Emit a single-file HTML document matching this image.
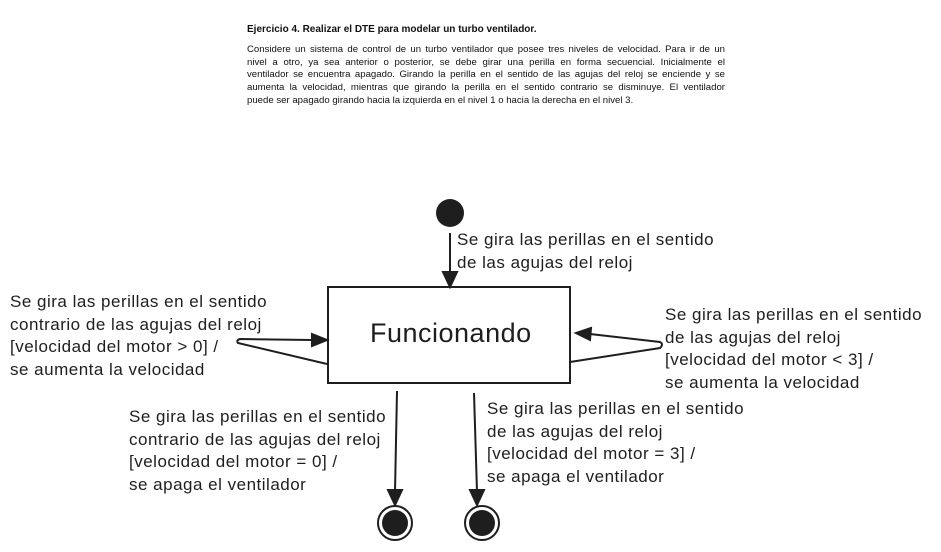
<!DOCTYPE html>
<html><head><meta charset="utf-8"><style>
body{margin:0;width:941px;height:552px;background:#fff;position:relative;overflow:hidden;font-family:"Liberation Sans",sans-serif;color:#1e1e1e}
.t{position:absolute;font-size:17px;letter-spacing:0.5px;line-height:22.5px;white-space:nowrap}
#doc{position:absolute;left:247px;top:24px;width:478px;font-size:9.6px;line-height:12.8px;color:#111}
#doc .l{text-align:justify;text-align-last:justify;white-space:nowrap}
</style></head><body>
<div id="doc"><div style="font-weight:bold;font-size:10px;margin-bottom:7px">Ejercicio 4. Realizar el DTE para modelar un turbo ventilador.</div>
<div class="l">Considere un sistema de control de un turbo ventilador que posee tres niveles de velocidad. Para ir de un</div>
<div class="l">nivel a otro, ya sea anterior o posterior, se debe girar una perilla en forma secuencial. Inicialmente el</div>
<div class="l">ventilador se encuentra apagado. Girando la perilla en el sentido de las agujas del reloj se enciende y se</div>
<div class="l">aumenta la velocidad, mientras que girando la perilla en el sentido contrario se disminuye. El ventilador</div>
<div>puede ser apagado girando hacia la izquierda en el nivel 1 o hacia la derecha en el nivel 3.</div></div>
<svg width="941" height="552" style="position:absolute;left:0;top:0" stroke="#1e1e1e" fill="none" stroke-width="2">
<circle cx="450" cy="213" r="14" fill="#1e1e1e" stroke="none"/>
<line x1="450" y1="233" x2="450" y2="272"/><polygon points="443,272 457,272 450,287" fill="#1e1e1e"/>
<rect x="328" y="287" width="242" height="96"/>
<path d="M327 364 L238 343 Q236 340 240 339 L312 340"/><polygon points="312,334 327,340 312,346" fill="#1e1e1e"/>
<path d="M570 362 L660 348 Q664 344 660 342 L590 334"/><polygon points="591,328 576,333 590,340" fill="#1e1e1e"/>
<line x1="397" y1="391" x2="395" y2="492"/><polygon points="388,490 402,490 395,505" fill="#1e1e1e"/>
<line x1="474" y1="393" x2="477" y2="492"/><polygon points="470,490 484,490 477,505" fill="#1e1e1e"/>
<circle cx="395" cy="523" r="17"/><circle cx="395" cy="523" r="13" fill="#1e1e1e" stroke="none"/>
<circle cx="482" cy="523" r="17"/><circle cx="482" cy="523" r="13" fill="#1e1e1e" stroke="none"/>
</svg>
<div class="t" style="left:370px;top:317px;font-size:27px;letter-spacing:0.5px;line-height:32px">Funcionando</div>
<div class="t" style="left:457px;top:229px">Se gira las perillas en el sentido<br>de las agujas del reloj</div>
<div class="t" style="left:10px;top:291px">Se gira las perillas en el sentido<br>contrario de las agujas del reloj<br>[velocidad del motor &gt; 0] /<br>se aumenta la velocidad</div>
<div class="t" style="left:665px;top:304px">Se gira las perillas en el sentido<br>de las agujas del reloj<br>[velocidad del motor &lt; 3] /<br>se aumenta la velocidad</div>
<div class="t" style="left:129px;top:406px">Se gira las perillas en el sentido<br>contrario de las agujas del reloj<br>[velocidad del motor = 0] /<br>se apaga el ventilador</div>
<div class="t" style="left:487px;top:398px">Se gira las perillas en el sentido<br>de las agujas del reloj<br>[velocidad del motor = 3] /<br>se apaga el ventilador</div>
</body></html>
